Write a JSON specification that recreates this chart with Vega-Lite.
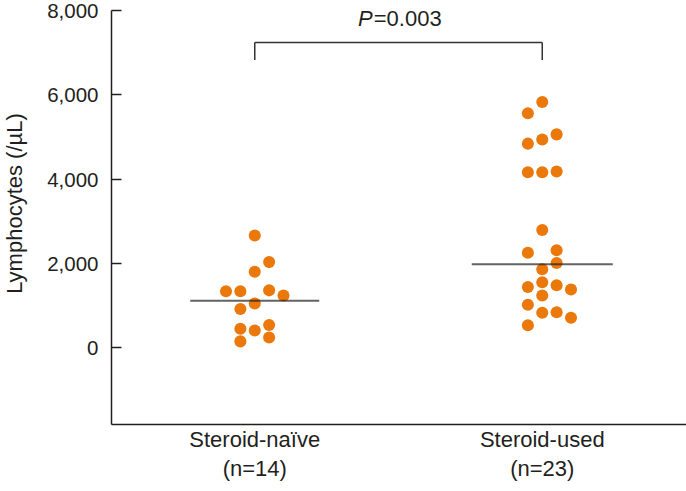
{
  "$schema": "https://vega.github.io/schema/vega-lite/v6.json",
  "width": 575,
  "height": 414,
  "autosize": {"type": "none"},
  "padding": {"left": 111, "top": 10, "right": 0, "bottom": 67},
  "config": {
    "view": {"stroke": null},
    "font": "Liberation Sans",
    "axis": {"labelFont": "Liberation Sans", "titleFont": "Liberation Sans", "labelColor": "#231f20", "titleColor": "#231f20", "domainColor": "#231f20", "tickColor": "#231f20", "grid": false}
  },
  "datasets": {
    "points": [
      {"group": "Steroid-naïve", "lane": 0, "value": 2650},
      {"group": "Steroid-naïve", "lane": 1, "value": 2020},
      {"group": "Steroid-naïve", "lane": 0, "value": 1790},
      {"group": "Steroid-naïve", "lane": -2, "value": 1330},
      {"group": "Steroid-naïve", "lane": -1, "value": 1330},
      {"group": "Steroid-naïve", "lane": 1, "value": 1350},
      {"group": "Steroid-naïve", "lane": 2, "value": 1230},
      {"group": "Steroid-naïve", "lane": 0, "value": 1040},
      {"group": "Steroid-naïve", "lane": -1, "value": 910},
      {"group": "Steroid-naïve", "lane": -1, "value": 440},
      {"group": "Steroid-naïve", "lane": 0, "value": 400},
      {"group": "Steroid-naïve", "lane": 1, "value": 530},
      {"group": "Steroid-naïve", "lane": -1, "value": 140},
      {"group": "Steroid-naïve", "lane": 1, "value": 230},
      {"group": "Steroid-used", "lane": 0, "value": 5820},
      {"group": "Steroid-used", "lane": -1, "value": 5550},
      {"group": "Steroid-used", "lane": 1, "value": 5050},
      {"group": "Steroid-used", "lane": 0, "value": 4930},
      {"group": "Steroid-used", "lane": -1, "value": 4830},
      {"group": "Steroid-used", "lane": -1, "value": 4150},
      {"group": "Steroid-used", "lane": 0, "value": 4150},
      {"group": "Steroid-used", "lane": 1, "value": 4170},
      {"group": "Steroid-used", "lane": 0, "value": 2780},
      {"group": "Steroid-used", "lane": 1, "value": 2300},
      {"group": "Steroid-used", "lane": -1, "value": 2240},
      {"group": "Steroid-used", "lane": 1, "value": 2000},
      {"group": "Steroid-used", "lane": 0, "value": 1850},
      {"group": "Steroid-used", "lane": 0, "value": 1540},
      {"group": "Steroid-used", "lane": -1, "value": 1430},
      {"group": "Steroid-used", "lane": 1, "value": 1470},
      {"group": "Steroid-used", "lane": 2, "value": 1370},
      {"group": "Steroid-used", "lane": 0, "value": 1230},
      {"group": "Steroid-used", "lane": -1, "value": 1010},
      {"group": "Steroid-used", "lane": 0, "value": 820},
      {"group": "Steroid-used", "lane": 1, "value": 830},
      {"group": "Steroid-used", "lane": 2, "value": 700},
      {"group": "Steroid-used", "lane": -1, "value": 520}
    ],
    "medians": [
      {"group": "Steroid-naïve", "median": 1105},
      {"group": "Steroid-used", "median": 1970}
    ],
    "bracket": [
      {"group": "Steroid-naïve", "to": "Steroid-used", "top": 7230, "bottom": 6815}
    ],
    "drops": [
      {"group": "Steroid-naïve", "top": 7230, "bottom": 6815},
      {"group": "Steroid-used", "top": 7230, "bottom": 6815}
    ],
    "pval": [
      {"group": "Steroid-naïve", "y": 7790, "p": "P", "rest": "=0.003"}
    ]
  },
  "encoding": {
    "x": {
      "field": "group", "type": "nominal",
      "scale": {"domain": ["Steroid-naïve", "Steroid-used"], "paddingInner": 0, "paddingOuter": 0},
      "axis": {
        "title": null, "labelAngle": 0, "ticks": false, "labelFontSize": 22, "labelPadding": 5,
        "labelLineHeight": 29, "labelBaseline": "top", "domainWidth": 1.5,
        "labelExpr": "[datum.label, datum.label == 'Steroid-naïve' ? '(n=14)' : '(n=23)']"
      }
    }
  },
  "layer": [
    {
      "data": {"name": "points"},
      "mark": {"type": "circle", "size": 145, "opacity": 1, "color": "#EA780B"},
      "encoding": {
        "xOffset": {"field": "lane", "type": "quantitative", "scale": {"domain": [-10, 10]}},
        "y": {
          "field": "value", "type": "quantitative",
          "scale": {"domain": [-1820, 8000], "nice": false, "zero": false},
          "axis": {
            "title": "Lymphocytes (/µL)", "titleFontSize": 22, "titleFontWeight": "normal",
            "titlePadding": 20, "titleY": 193, "values": [0, 2000, 4000, 6000, 8000], "format": ",.0f",
            "labelFontSize": 20.5, "labelOffset": 1.5, "tickSize": -10, "labelPadding": 23, "domainWidth": 1.5, "tickWidth": 1.5
          }
        }
      }
    },
    {
      "data": {"name": "medians"},
      "transform": [{"filter": "datum.group == 'Steroid-naïve'"}],
      "mark": {"type": "tick", "size": 129, "thickness": 2, "color": "#231f20"},
      "encoding": {"y": {"field": "median", "type": "quantitative"}}
    },
    {
      "data": {"name": "medians"},
      "transform": [{"filter": "datum.group == 'Steroid-used'"}],
      "mark": {"type": "tick", "size": 141, "thickness": 2, "color": "#231f20"},
      "encoding": {"y": {"field": "median", "type": "quantitative"}}
    },
    {
      "data": {"name": "bracket"},
      "mark": {"type": "rule", "strokeWidth": 1.5, "color": "#333333"},
      "encoding": {
        "x2": {"field": "to"},
        "y": {"field": "top", "type": "quantitative"}
      }
    },
    {
      "data": {"name": "drops"},
      "mark": {"type": "rule", "strokeWidth": 1.5, "color": "#333333"},
      "encoding": {
        "y": {"field": "top", "type": "quantitative"},
        "y2": {"field": "bottom"}
      }
    },
    {
      "data": {"name": "pval"},
      "mark": {"type": "text", "fontSize": 22, "fontStyle": "italic", "align": "right", "baseline": "middle", "dx": 118, "color": "#231f20"},
      "encoding": {"y": {"field": "y", "type": "quantitative"}, "text": {"field": "p"}}
    },
    {
      "data": {"name": "pval"},
      "mark": {"type": "text", "fontSize": 22, "align": "left", "baseline": "middle", "dx": 119, "color": "#231f20"},
      "encoding": {"y": {"field": "y", "type": "quantitative"}, "text": {"field": "rest"}}
    }
  ]
}
